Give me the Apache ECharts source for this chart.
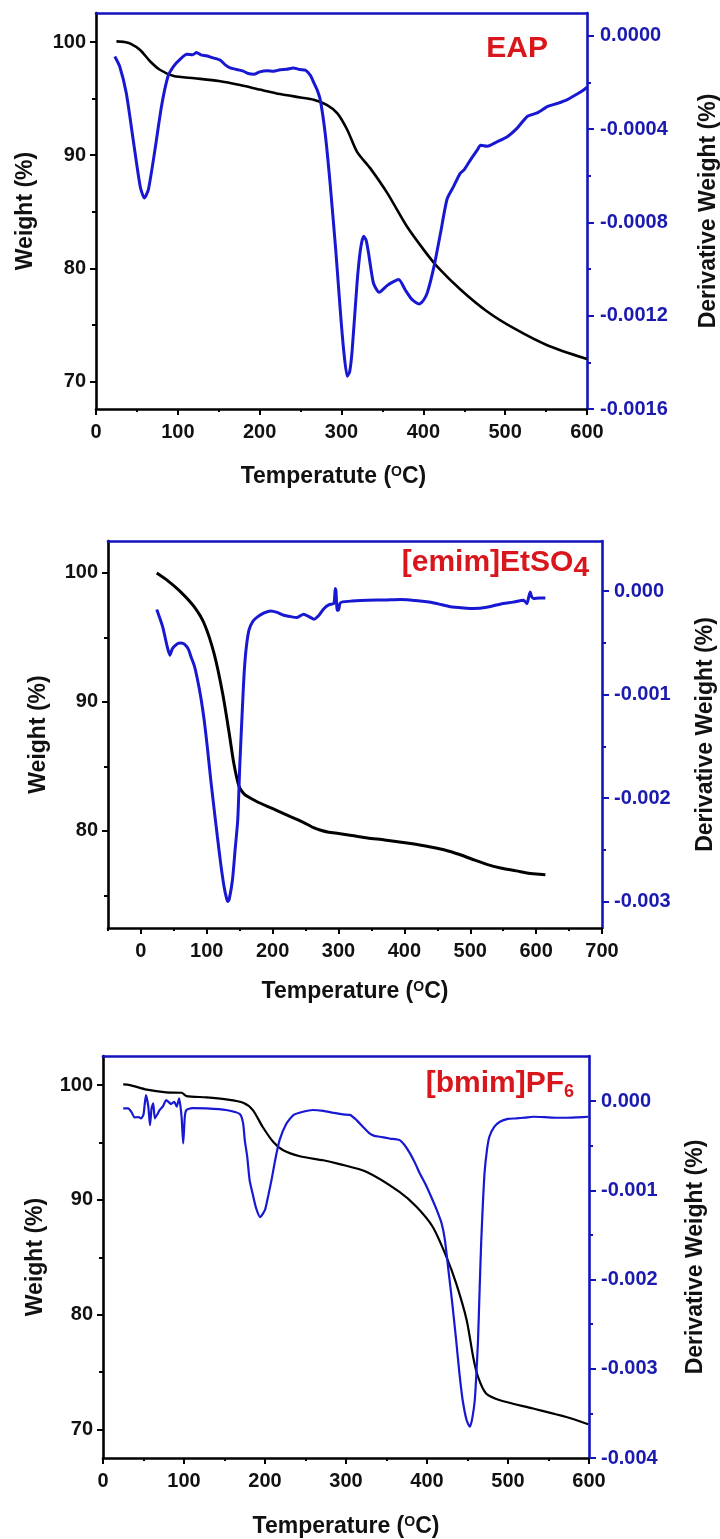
<!DOCTYPE html>
<html>
<head>
<meta charset="utf-8">
<script src="https://cdn.jsdelivr.net/npm/echarts@6/dist/echarts.min.js"></script>
<style>
  html, body { margin: 0; padding: 0; background: #fff; }
  #chart { width: 720px; height: 1539px; }
</style>
</head>
<body>
<div id="chart"></div>
<script>
// ---------- EAP ----------
const eapWeightT = [25, 35, 42, 54, 66, 78, 95, 120, 150, 176, 200, 225, 250, 266, 282, 295, 307, 319, 335, 356, 380, 401, 417, 446, 478, 511, 552, 600];
const eapWeight  = [100.05, 100.0, 99.85, 99.3, 98.3, 97.55, 97.0, 96.8, 96.55, 96.2, 95.8, 95.4, 95.1, 94.9, 94.45, 93.7, 92.25, 90.3, 88.86, 86.65, 83.7, 81.6, 80.16, 78.1, 76.2, 74.7, 73.2, 72.0];
const eapDerivT = [23, 29, 37, 46, 54, 59, 64, 72, 80, 88, 95, 103, 111, 118, 123, 128, 135, 143, 152, 158, 164, 172, 180, 186, 193, 200, 209, 217, 225, 233, 241, 249, 256, 262, 266, 270, 274, 280, 286, 293, 299, 303, 307, 310, 313, 319, 323, 327, 330, 333, 339, 346, 356, 363, 370, 378, 386, 395, 400, 405, 413, 421, 429, 437, 445, 450, 458, 466, 470, 478, 490, 503, 515, 527, 540, 552, 564, 576, 588, 595, 600];
const eapDeriv  = [-0.000089, -0.000132, -0.000246, -0.00046, -0.000646, -0.000696, -0.00066, -0.00049, -0.000303, -0.000174, -0.00013, -0.0001, -0.00008, -0.000082, -0.000072, -0.000082, -0.000086, -0.000095, -0.000105, -0.000125, -0.000138, -0.000145, -0.000152, -0.000162, -0.000165, -0.000155, -0.00015, -0.000152, -0.000146, -0.000144, -0.000138, -0.000145, -0.000148, -0.00017, -0.0002, -0.00023, -0.000274, -0.000417, -0.00063, -0.00092, -0.0012, -0.00136, -0.00146, -0.00144, -0.00135, -0.00106, -0.00092, -0.00086, -0.000875, -0.00093, -0.00106, -0.0011, -0.00107, -0.001055, -0.001045, -0.00109, -0.00113, -0.00115, -0.001135, -0.0011, -0.00099, -0.000846, -0.0007, -0.000646, -0.00059, -0.000574, -0.00053, -0.000489, -0.00047, -0.000474, -0.000455, -0.000432, -0.000395, -0.000346, -0.00033, -0.000303, -0.00029, -0.000274, -0.00025, -0.000235, -0.00022];
const eapXTicks = [0, 100, 200, 300, 400, 500, 600];
const eapXMinor = [50, 150, 250, 350, 450, 550];
const eapWTicks = [70, 80, 90, 100];
const eapWMinor = [75, 85, 95];
const eapDTicks = [0, -0.0004, -0.0008, -0.0012, -0.0016];
const eapDMinor = [-0.0002, -0.0006, -0.0010, -0.0014];

// ---------- [emim]EtSO4 ----------
const emimWeightT = [24, 40, 61, 81, 96, 111, 124, 134, 141, 149, 156, 162, 175, 192, 210, 227, 245, 262, 273, 285, 300, 320, 344, 370, 404, 430, 460, 485, 505, 525, 546, 570, 586, 600, 614];
const emimWeight  = [100.0, 99.43, 98.5, 97.37, 96.08, 93.76, 90.67, 87.57, 85.25, 83.44, 82.9, 82.66, 82.3, 81.9, 81.5, 81.1, 80.7, 80.25, 80.05, 79.9, 79.8, 79.65, 79.45, 79.3, 79.06, 78.85, 78.54, 78.15, 77.76, 77.4, 77.12, 76.9, 76.73, 76.65, 76.6];
const emimDerivT = [24, 33, 40, 44, 48, 56, 61, 66, 72, 76, 81, 86, 91, 96, 101, 106, 111, 116, 121, 126, 130, 132, 134, 139, 143, 147, 150, 152, 155, 157, 160, 164, 170, 177, 187, 197, 207, 217, 227, 237, 247, 255, 263, 270, 278, 286, 293, 295, 296, 298, 300, 302, 306, 320, 344, 370, 394, 420, 445, 470, 490, 505, 525, 545, 565, 581, 586, 589, 591, 593, 596, 605, 614];
const emimDeriv  = [-0.000177, -0.000344, -0.000538, -0.000618, -0.000553, -0.000505, -0.0005, -0.000512, -0.00056, -0.000634, -0.00072, -0.000859, -0.00103, -0.001245, -0.00152, -0.001824, -0.0021, -0.00237, -0.00263, -0.00285, -0.00297, -0.003, -0.00298, -0.00279, -0.0025, -0.00221, -0.0017, -0.00141, -0.001, -0.00076, -0.00054, -0.000376, -0.00029, -0.000248, -0.00021, -0.00019, -0.000205, -0.000232, -0.000245, -0.000254, -0.000222, -0.000245, -0.00027, -0.000235, -0.000167, -0.00013, -0.000119, 0.000026, 0.00001, -0.000183, -0.000183, -0.00012, -0.000103, -0.000095, -0.000087, -0.000085, -0.00008, -0.000092, -0.000113, -0.00015, -0.000162, -0.000167, -0.000155, -0.000125, -0.000105, -0.000087, -0.00012, -0.00005, -0.000007, -0.00005, -0.00007, -0.000065, -0.000065];
const emimXTicks = [0, 100, 200, 300, 400, 500, 600, 700];
const emimXMinor = [-50, 50, 150, 250, 350, 450, 550, 650];
const emimWTicks = [80, 90, 100];
const emimWMinor = [75, 85, 95];
const emimDTicks = [0, -0.001, -0.002, -0.003];
const emimDMinor = [-0.0005, -0.0015, -0.0025];

// ---------- [bmim]PF6 ----------
const bmimWeightT = [25, 33, 54, 78, 97, 103, 128, 152, 173, 185, 197, 210, 222, 243, 272, 292, 325, 366, 387, 407, 424, 436, 449, 457, 463, 473, 490, 531, 572, 599];
const bmimWeight  = [100.06, 100.0, 99.6, 99.36, 99.33, 99.04, 98.93, 98.75, 98.46, 97.82, 96.37, 95.06, 94.34, 93.8, 93.45, 93.12, 92.45, 90.7, 89.4, 87.66, 85.04, 82.73, 79.53, 76.33, 74.59, 73.14, 72.56, 71.84, 71.1, 70.47];
const bmimDerivT = [25, 31, 35, 39, 44, 47, 50, 53, 56, 58, 60, 62, 64, 67, 70, 74, 78, 81, 84, 86, 88, 91, 94, 97, 99, 101, 103, 110, 128, 152, 169, 173, 175, 178, 181, 185, 189, 194, 200, 204, 208, 213, 218, 226, 235, 247, 259, 272, 284, 296, 305, 313, 321, 329, 335, 342, 354, 366, 372, 379, 385, 391, 398, 405, 412, 418, 422, 426, 431, 436, 440, 444, 449, 453, 456, 459, 461, 463, 465, 467, 469, 471, 474, 477, 483, 490, 500, 510, 521, 531, 545, 560, 572, 586, 599];
const bmimDeriv  = [-0.000082, -0.000082, -0.00012, -0.000183, -0.00018, -0.000194, -0.00015, 0.000067, -0.000064, -0.00027, -0.00008, -0.000026, -0.000194, -0.00015, -0.0001, -0.00006, 0.000011, -0.00001, -0.000034, -0.00002, -0.000008, -0.000064, 0.00003, -0.000176, -0.000474, -0.000176, -0.0001, -0.00008, -0.000082, -0.0001, -0.000146, -0.00025, -0.000437, -0.00062, -0.000886, -0.00105, -0.0012, -0.0013, -0.00122, -0.00106, -0.000886, -0.00064, -0.000437, -0.00026, -0.000157, -0.00012, -0.0001, -0.00011, -0.000131, -0.00015, -0.000155, -0.000213, -0.00029, -0.000362, -0.00039, -0.0004, -0.00042, -0.000437, -0.00049, -0.000586, -0.00069, -0.00081, -0.00093, -0.00107, -0.00122, -0.00137, -0.00155, -0.00186, -0.00225, -0.00268, -0.00305, -0.00335, -0.00358, -0.00365, -0.00355, -0.00335, -0.00305, -0.00268, -0.0021, -0.00156, -0.00115, -0.00081, -0.00055, -0.0004, -0.00029, -0.000232, -0.0002, -0.000194, -0.000185, -0.000176, -0.00018, -0.000187, -0.000187, -0.000182, -0.000176];
const bmimXTicks = [0, 100, 200, 300, 400, 500, 600];
const bmimXMinor = [50, 150, 250, 350, 450, 550];
const bmimWTicks = [70, 80, 90, 100];
const bmimWMinor = [75, 85, 95];
const bmimDTicks = [0, -0.001, -0.002, -0.003, -0.004];
const bmimDMinor = [-0.0005, -0.0015, -0.0025, -0.0035];

// ---------- drawing ----------
const FONT = '"Liberation Sans", Arial, Helvetica, sans-serif';
const AXIS_BLUE = '#1414bc';
const LINE_BLUE = '#1818d2';
const LABEL_BLUE = '#1a1ab0';
const INK = '#111';
const RED = '#d8161c';

function zip(xs, ys) { return xs.map((x, i) => [x, ys[i]]); }

const panels = [
  {
    box: { left: 96, top: 13, width: 491, height: 396 },
    x: [0, 600], w: [67.59, 102.56], d: [-0.0016, 0.0000973], dDigits: 4,
    xTicks: eapXTicks, xMinor: eapXMinor, wTicks: eapWTicks, wMinor: eapWMinor, dTicks: eapDTicks, dMinor: eapDMinor,
    weight: zip(eapWeightT, eapWeight), deriv: zip(eapDerivT, eapDeriv),
    xName: 'Temperatute ({s|O}C)', xNamePad: [0, 16, 0, 0],
    leftGap: 59, rightGap: 110, bottomGap: 56, rightMargin: 13,
    lineW: 2.6, derivW: 3
  },
  {
    box: { left: 108, top: 541, width: 494, height: 387 },
    x: [-50, 700], w: [72.47, 102.48], d: [-0.003257, 0.000486], dDigits: 3,
    xTicks: emimXTicks, xMinor: emimXMinor, wTicks: emimWTicks, wMinor: emimWMinor, dTicks: emimDTicks, dMinor: emimDMinor,
    weight: zip(emimWeightT, emimWeight), deriv: zip(emimDerivT, emimDeriv),
    xName: 'Temperature ({s|O}C)', xNamePad: [0, 0, 0, 0],
    leftGap: 58, rightGap: 92, bottomGap: 52, rightMargin: 12,
    lineW: 3, derivW: 3
  },
  {
    box: { left: 103, top: 1056, width: 486, height: 402 },
    x: [0, 600], w: [67.53, 102.53], d: [-0.004, 0.000505], dDigits: 3,
    xTicks: bmimXTicks, xMinor: bmimXMinor, wTicks: bmimWTicks, wMinor: bmimWMinor, dTicks: bmimDTicks, dMinor: bmimDMinor,
    weight: zip(bmimWeightT, bmimWeight), deriv: zip(bmimDerivT, bmimDeriv),
    xName: 'Temperature ({s|O}C)', xNamePad: [0, 0, 0, 0],
    leftGap: 56, rightGap: 95, bottomGap: 57, rightMargin: 12,
    lineW: 2.2, derivW: 2.2
  }
];

const grid = [], xAxis = [], yAxis = [], series = [];
const labelFont = { fontSize: 20, fontWeight: 'bold', fontFamily: FONT };
const nameFont = {
  fontSize: 23, fontWeight: 'bold', fontFamily: FONT, color: INK,
  rich: { s: { fontSize: 14, fontWeight: 'bold', fontFamily: FONT, color: INK, padding: [0, 0, 9, 0] } }
};

panels.forEach((p) => {
  const g0 = grid.length;
  // fixed plot boxes: never shrink the grid to fit labels
  grid.push(Object.assign({ containLabel: false, outerBoundsMode: 'none' }, p.box));
  grid.push(Object.assign({ containLabel: false, outerBoundsMode: 'none' }, p.box));
  const g1 = g0 + 1;
  const xi = xAxis.length, yi = yAxis.length;

  // bottom temperature axis
  xAxis.push({
    gridIndex: g0, type: 'value', position: 'bottom', min: p.x[0], max: p.x[1],
    axisLine: { onZero: false, lineStyle: { color: '#000', width: 2.6 } },
    axisTick: { customValues: p.xTicks, length: 6, lineStyle: { color: '#000', width: 2 } },
    axisLabel: Object.assign({ customValues: p.xTicks, margin: 13, color: INK }, labelFont),
    splitLine: { show: false },
    name: p.xName, nameLocation: 'middle', nameGap: p.bottomGap,
    nameTextStyle: Object.assign({}, nameFont, { padding: p.xNamePad })
  });
  // top frame line
  xAxis.push({
    gridIndex: g0, type: 'value', position: 'top', min: p.x[0], max: p.x[1],
    axisLine: { onZero: false, lineStyle: { color: AXIS_BLUE, width: 2.6 } },
    axisTick: { show: false }, axisLabel: { show: false }, splitLine: { show: false }
  });
  // minor ticks on the temperature axis
  xAxis.push({
    gridIndex: g1, type: 'value', position: 'bottom', min: p.x[0], max: p.x[1],
    axisLine: { show: false, onZero: false },
    axisTick: { customValues: p.xMinor, length: 3, lineStyle: { color: '#000', width: 2 } },
    axisLabel: { show: false }, splitLine: { show: false }
  });

  // weight axis (left)
  yAxis.push({
    gridIndex: g0, type: 'value', position: 'left', min: p.w[0], max: p.w[1],
    axisLine: { onZero: false, lineStyle: { color: '#000', width: 2.6 } },
    axisTick: { customValues: p.wTicks, length: 6, lineStyle: { color: '#000', width: 2 } },
    axisLabel: Object.assign({ customValues: p.wTicks, margin: 10, color: INK }, labelFont),
    splitLine: { show: false },
    name: 'Weight (%)', nameLocation: 'middle', nameGap: p.leftGap, nameTextStyle: nameFont
  });
  // derivative axis (right)
  yAxis.push({
    gridIndex: g0, type: 'value', position: 'right', min: p.d[0], max: p.d[1],
    axisLine: { onZero: false, lineStyle: { color: AXIS_BLUE, width: 2.6 } },
    axisTick: { customValues: p.dTicks, length: 7, lineStyle: { color: AXIS_BLUE, width: 2 } },
    axisLabel: Object.assign({
      customValues: p.dTicks, margin: p.rightMargin, color: LABEL_BLUE,
      formatter: (v) => Number(v).toFixed(p.dDigits)
    }, labelFont),
    splitLine: { show: false },
    name: 'Derivative Weight (%)', nameLocation: 'middle', nameGap: p.rightGap, nameTextStyle: nameFont
  });
  // minor ticks on both value axes
  yAxis.push({
    gridIndex: g1, type: 'value', position: 'left', min: p.w[0], max: p.w[1],
    axisLine: { show: false, onZero: false },
    axisTick: { customValues: p.wMinor, length: 4, lineStyle: { color: '#000', width: 2 } },
    axisLabel: { show: false }, splitLine: { show: false }
  });
  yAxis.push({
    gridIndex: g1, type: 'value', position: 'right', min: p.d[0], max: p.d[1],
    axisLine: { show: false, onZero: false },
    axisTick: { customValues: p.dMinor, length: 4, lineStyle: { color: AXIS_BLUE, width: 2 } },
    axisLabel: { show: false }, splitLine: { show: false }
  });

  series.push({
    type: 'line', xAxisIndex: xi, yAxisIndex: yi, data: p.weight,
    showSymbol: false, smooth: 0.25, lineStyle: { color: '#000', width: p.lineW }, z: 3
  });
  series.push({
    type: 'line', xAxisIndex: xi, yAxisIndex: yi + 1, data: p.deriv,
    showSymbol: false, smooth: 0.2, lineStyle: { color: LINE_BLUE, width: p.derivW }, z: 4
  });
});

const title = [
  {
    text: 'EAP', right: 172, top: 34, padding: 0,
    textStyle: { fontSize: 30, fontWeight: 'bold', fontFamily: FONT, color: RED }
  },
  {
    text: '{m|[emim]EtSO}{s|4}', right: 131, top: 545, padding: 0,
    textStyle: {
      rich: {
        m: { fontSize: 30, lineHeight: 36, fontWeight: 'bold', fontFamily: FONT, color: RED },
        s: { fontSize: 28, lineHeight: 28, fontWeight: 'bold', fontFamily: FONT, color: RED, padding: [10, 0, 0, 0] }
      }
    }
  },
  {
    text: '{m|[bmim]PF}{s|6}', right: 146, top: 1066, padding: 0,
    textStyle: {
      rich: {
        m: { fontSize: 30, lineHeight: 36, fontWeight: 'bold', fontFamily: FONT, color: RED },
        s: { fontSize: 18, lineHeight: 18, fontWeight: 'bold', fontFamily: FONT, color: RED, padding: [16, 0, 0, 0] }
      }
    }
  }
];

const chart = echarts.init(document.getElementById('chart'), null, { renderer: 'canvas' });
chart.setOption({
  animation: false,
  backgroundColor: '#fff',
  title: title,
  grid: grid,
  xAxis: xAxis,
  yAxis: yAxis,
  series: series
});
</script>
</body>
</html>
